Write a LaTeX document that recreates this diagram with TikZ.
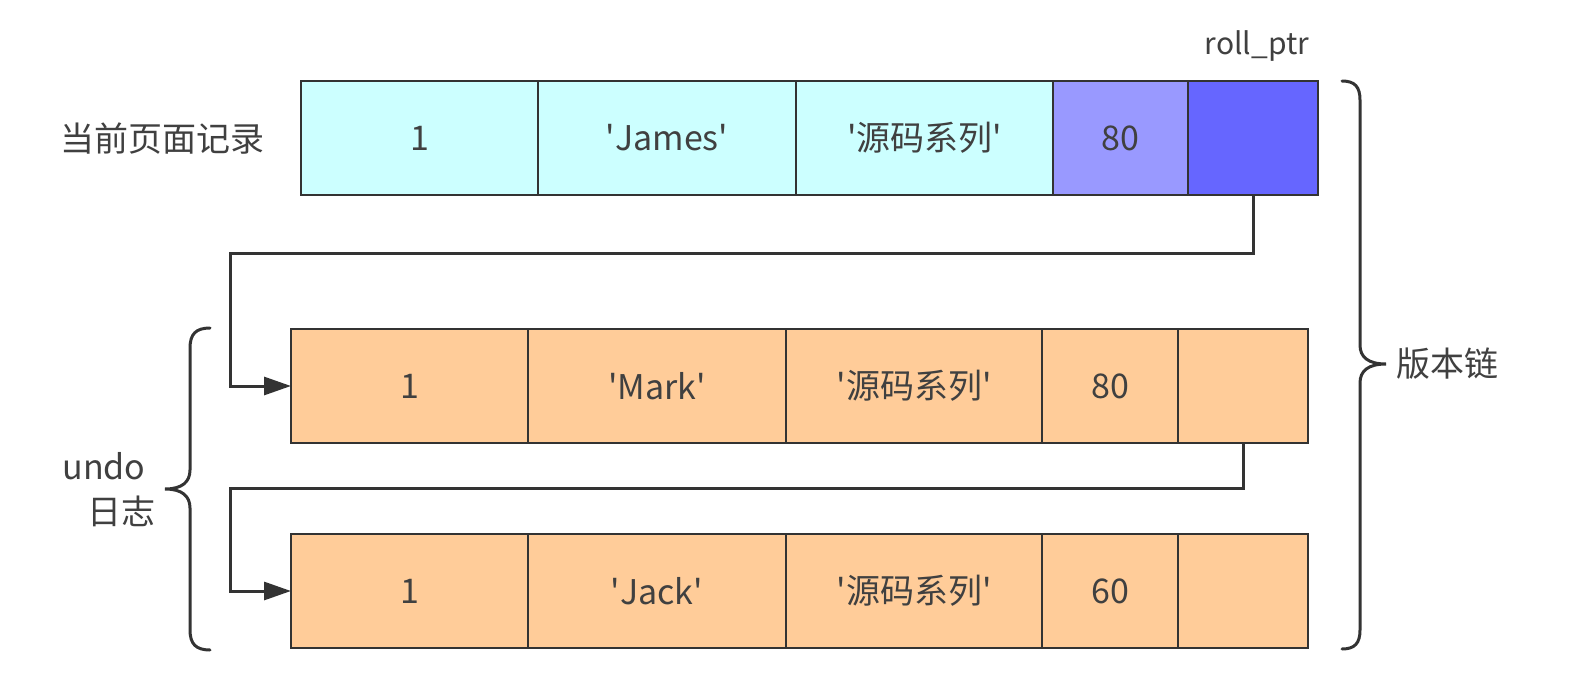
\documentclass[tikz,border=0pt]{standalone}
\usepackage{fontspec}
\setmainfont{Noto Sans CJK SC}
\usetikzlibrary{positioning,arrows.meta}

\definecolor{cyanbg}{HTML}{CCFFFF}
\definecolor{lilac}{HTML}{9999FF}
\definecolor{ptrblue}{HTML}{6666FF}
\definecolor{peach}{HTML}{FFCC99}
\definecolor{ink}{HTML}{333333}
\definecolor{txt}{HTML}{404040}
\newcommand\sq{\textquotesingle}

\tikzset{
  field/.style={draw=ink, line width=2.5pt, minimum height=114pt, outer sep=0pt,
    inner sep=0pt, text=txt, font=\fontsize{34}{40}\selectfont},
  note/.style={text=txt, inner sep=0pt, font=\fontsize{34}{45}\selectfont},
  link/.style={draw=ink, line width=3pt, -{Triangle[length=27pt,width=18pt]}},
  brace/.style={draw=ink, line width=3pt, line cap=round},
}

\begin{document}
\begin{tikzpicture}[x=1pt,y=-1pt]
  \useasboundingbox (0,0) rectangle (1590,688);

  % current record in the page
  \node[field, fill=cyanbg, minimum width=237pt, anchor=north west] (t1) at (301,81) {1};
  \node[field, fill=cyanbg, minimum width=258pt, right=0pt of t1] (t2) {\sq James\sq};
  \node[field, fill=cyanbg, minimum width=257pt, right=0pt of t2] (t3) {\sq 源码系列\sq};
  \node[field, fill=lilac, minimum width=135pt, right=0pt of t3] (t4) {80};
  \node[field, fill=ptrblue, minimum width=130pt, right=0pt of t4] (t5) {};

  % undo log records
  \node[field, fill=peach, minimum width=237pt, anchor=north west] (m1) at (291,329) {1};
  \node[field, fill=peach, minimum width=258pt, right=0pt of m1] (m2) {\sq Mark\sq};
  \node[field, fill=peach, minimum width=256pt, right=0pt of m2] (m3) {\sq 源码系列\sq};
  \node[field, fill=peach, minimum width=136pt, right=0pt of m3] (m4) {80};
  \node[field, fill=peach, minimum width=130pt, right=0pt of m4] (m5) {};

  \node[field, fill=peach, minimum width=237pt, anchor=north west] (b1) at (291,534) {1};
  \node[field, fill=peach, minimum width=258pt, right=0pt of b1] (b2) {\sq Jack\sq};
  \node[field, fill=peach, minimum width=256pt, right=0pt of b2] (b3) {\sq 源码系列\sq};
  \node[field, fill=peach, minimum width=136pt, right=0pt of b3] (b4) {60};
  \node[field, fill=peach, minimum width=130pt, right=0pt of b4] (b5) {};

  % labels
  \node[note] (cur) at (162,139) {当前页面记录};
  \node[note, font=\fontsize{30}{36}\selectfont] (ptr) at (1257,46) {roll\_ptr};

  % roll pointers
  \coordinate (bendA) at (230,253);
  \coordinate (bendB) at (230,488);
  \draw[link] (t5.south) |- (bendA) |- (m1.west);
  \draw[link] (m5.south) |- (bendB) |- (b1.west);

  % braces
  \coordinate (undotip) at (165,489);
  \coordinate (chaintip) at (1386,364);
  \draw[brace] (210,328) .. controls (196,328) and (190,334) .. (190,348) -- (190,470)
    .. controls (190,482) and (182,489) .. (undotip)
    .. controls (182,489) and (190,496) .. (190,508) -- (190,630)
    .. controls (190,644) and (196,650) .. (210,650);
  \draw[brace] (1342,81) .. controls (1355,81) and (1360,87) .. (1360,100) -- (1360,345)
    .. controls (1360,357) and (1368,364) .. (chaintip)
    .. controls (1368,364) and (1360,371) .. (1360,383) -- (1360,630)
    .. controls (1360,643) and (1355,649) .. (1342,649);
  \node[note, align=center] (undo) at (121,490) {undo\hphantom{xx}\\日志};
  \node[note, right=10pt of chaintip] (chain) {版本链};
\end{tikzpicture}
\end{document}
